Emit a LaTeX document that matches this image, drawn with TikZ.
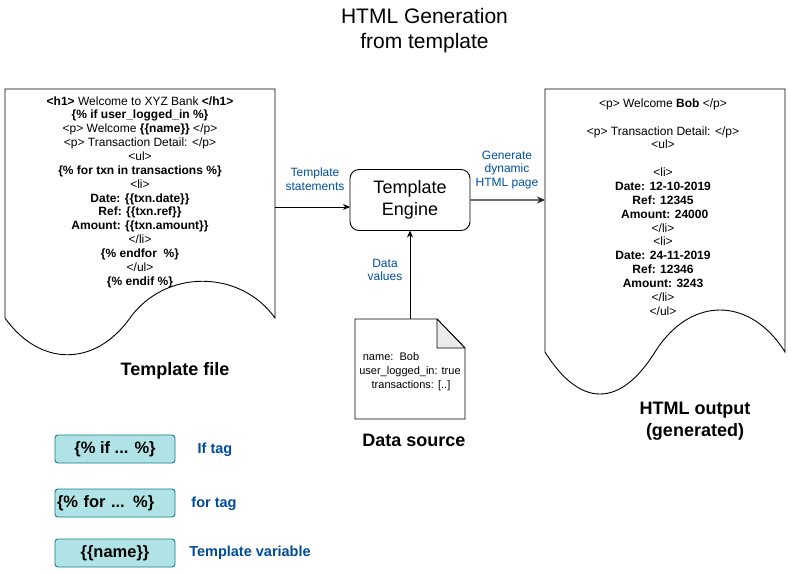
\documentclass[tikz,border=0pt]{standalone}
\usepackage{fontspec}
\setmainfont{Liberation Sans}
\usetikzlibrary{arrows.meta}
\definecolor{lblue}{HTML}{0050A0}
\definecolor{dblue}{HTML}{004C99}
\definecolor{tagfill}{HTML}{B0E3E6}
\definecolor{tagline}{HTML}{0E8088}
\definecolor{foldgray}{HTML}{EBEBEB}
\definecolor{arrgray}{HTML}{6E6E6E}
\begin{document}
\begin{tikzpicture}[x=1pt,y=-1pt,
  shapeline/.style={draw=black,line width=0.9pt},
  doctext/.style={align=center,font=\fontsize{12}{13.85}\selectfont,inner sep=0pt},
  edgelabel/.style={align=center,text=lblue,font=\fontsize{12}{13.8}\selectfont,inner sep=0pt},
  bigbold/.style={align=center,font=\bfseries\fontsize{18}{22}\selectfont,inner sep=0pt},
  tagbox/.style={draw=tagline,fill=tagfill,line width=0.9pt,rounded corners=3pt,minimum width=120pt,minimum height=28pt,inner sep=2pt,outer sep=0pt,font=\bfseries\fontsize{16.5}{19}\selectfont},
  taglabel/.style={text=dblue,font=\bfseries\fontsize{14.5}{17}\selectfont,inner sep=0pt},
  flowarrow/.style={-{Stealth[length=7pt,width=6pt]},line width=0.9pt}
]
\useasboundingbox (0,0) rectangle (791,573);
\fill[white] (0,0) rectangle (791,573);

% title
\node[align=center,font=\fontsize{21}{25}\selectfont,inner sep=0pt] (title) at (424.5,31) {HTML Generation\\from template};

% template file document
\draw[shapeline] (5,318) -- (5,89) -- (275,89) -- (275,318)
  .. controls (240,269) and (165,269) .. (130,318)
  .. controls (95,367) and (40,367) .. (5,318) -- cycle;
\node[doctext] (tfText) at (140,192) {\textbf{<h1>} Welcome to XYZ Bank \textbf{</h1>}\\
\textbf{\{\% if user\_logged\_in \%\}}\\
<p> Welcome \textbf{\{\{name\}\}} </p>\\
<p> Transaction Detail: </p>\\
<ul>\\
\textbf{\{\% for txn in transactions \%\}}\\
<li>\\
\textbf{Date: \{\{txn.date\}\}}\\
\textbf{Ref: \{\{txn.ref\}\}}\\
\textbf{Amount: \{\{txn.amount\}\}}\\
</li>\\
\textbf{\{\% endfor \ \%\}}\\
</ul>\\
\textbf{\{\% endif \%\}}};
\node[bigbold] (tfLabel) at (175,371) {Template file};
\coordinate (tfOut) at (275,207);

% html output document
\draw[shapeline] (545,352) -- (545,89) -- (785,89) -- (785,352)
  .. controls (750,296) and (690,296) .. (655,352)
  .. controls (620,408) and (580,408) .. (545,352) -- cycle;
\node[doctext] (hoText) at (663,207) {<p> Welcome \textbf{Bob} </p>\\
\mbox{}\\
<p> Transaction Detail: </p>\\
<ul>\\
\mbox{}\\
<li>\\
\textbf{Date: 12-10-2019}\\
\textbf{Ref: 12345}\\
\textbf{~Amount: 24000}\\
</li>\\
<li>\\
\textbf{Date: 24-11-2019}\\
\textbf{Ref: 12346}\\
\textbf{Amount: 3243}\\
</li>\\
</ul>};
\node[bigbold] (hoLabel) at (695,421) {HTML output\\(generated)};
\coordinate (hoIn) at (545,200);

% template engine
\node[draw,line width=0.9pt,rounded corners=9pt,minimum width=120pt,minimum height=61pt,outer sep=0pt,align=center,font=\fontsize{18}{22}\selectfont] (engine) at (410,200) {Template\\Engine};

% data source note
\coordinate (dsTop) at (410,319);
\draw[shapeline,fill=white] (355,319) -- (437,319) -- (465,348) -- (465,419) -- (355,419) -- cycle;
\draw[shapeline,fill=foldgray,line join=round] (437,319) -- (437,348) -- (465,348) -- cycle;
\node[font=\fontsize{11}{13}\selectfont,inner sep=0pt] (dsName) at (391,357) {name:\ \ Bob};
\node[font=\fontsize{11}{13}\selectfont,inner sep=0pt] (dsUser) at (410,372) {user\_logged\_in: true};
\node[font=\fontsize{11}{13}\selectfont,inner sep=0pt] (dsTx) at (411,386) {transactions: [..]};
\node[bigbold] (dsLabel) at (414,440) {Data source};

% connectors
\draw[flowarrow] (tfOut) -- (tfOut -| engine.west);
\draw[-{Stealth[length=8pt,width=7pt,color=black!85]},draw=arrgray,line width=1.8pt] (engine.east) -- (hoIn);
\draw[flowarrow] (dsTop) -- (engine.south);

% connector labels
\node[edgelabel] (lblTs) at (315,179.5) {Template\\statements};
\node[edgelabel] (lblGen) at (507,170) {Generate\\dynamic\\HTML page};
\node[edgelabel] (lblData) at (385,270) {Data\\values};

% legend
\node[tagbox] (tagIf) at (115,449) {\{\% if ... \%\}};
\node[tagbox,text width=116pt,align=left] (tagFor) at (115,503) {\{\% for ... \%\}};
\node[tagbox] (tagVar) at (115,553) {\{\{name\}\}};
\node[taglabel] (lblIf) at (215,450) {If tag};
\node[taglabel] (lblFor) at (214,504) {for tag};
\node[taglabel] (lblVar) at (250,553) {Template variable};
\end{tikzpicture}
\end{document}
